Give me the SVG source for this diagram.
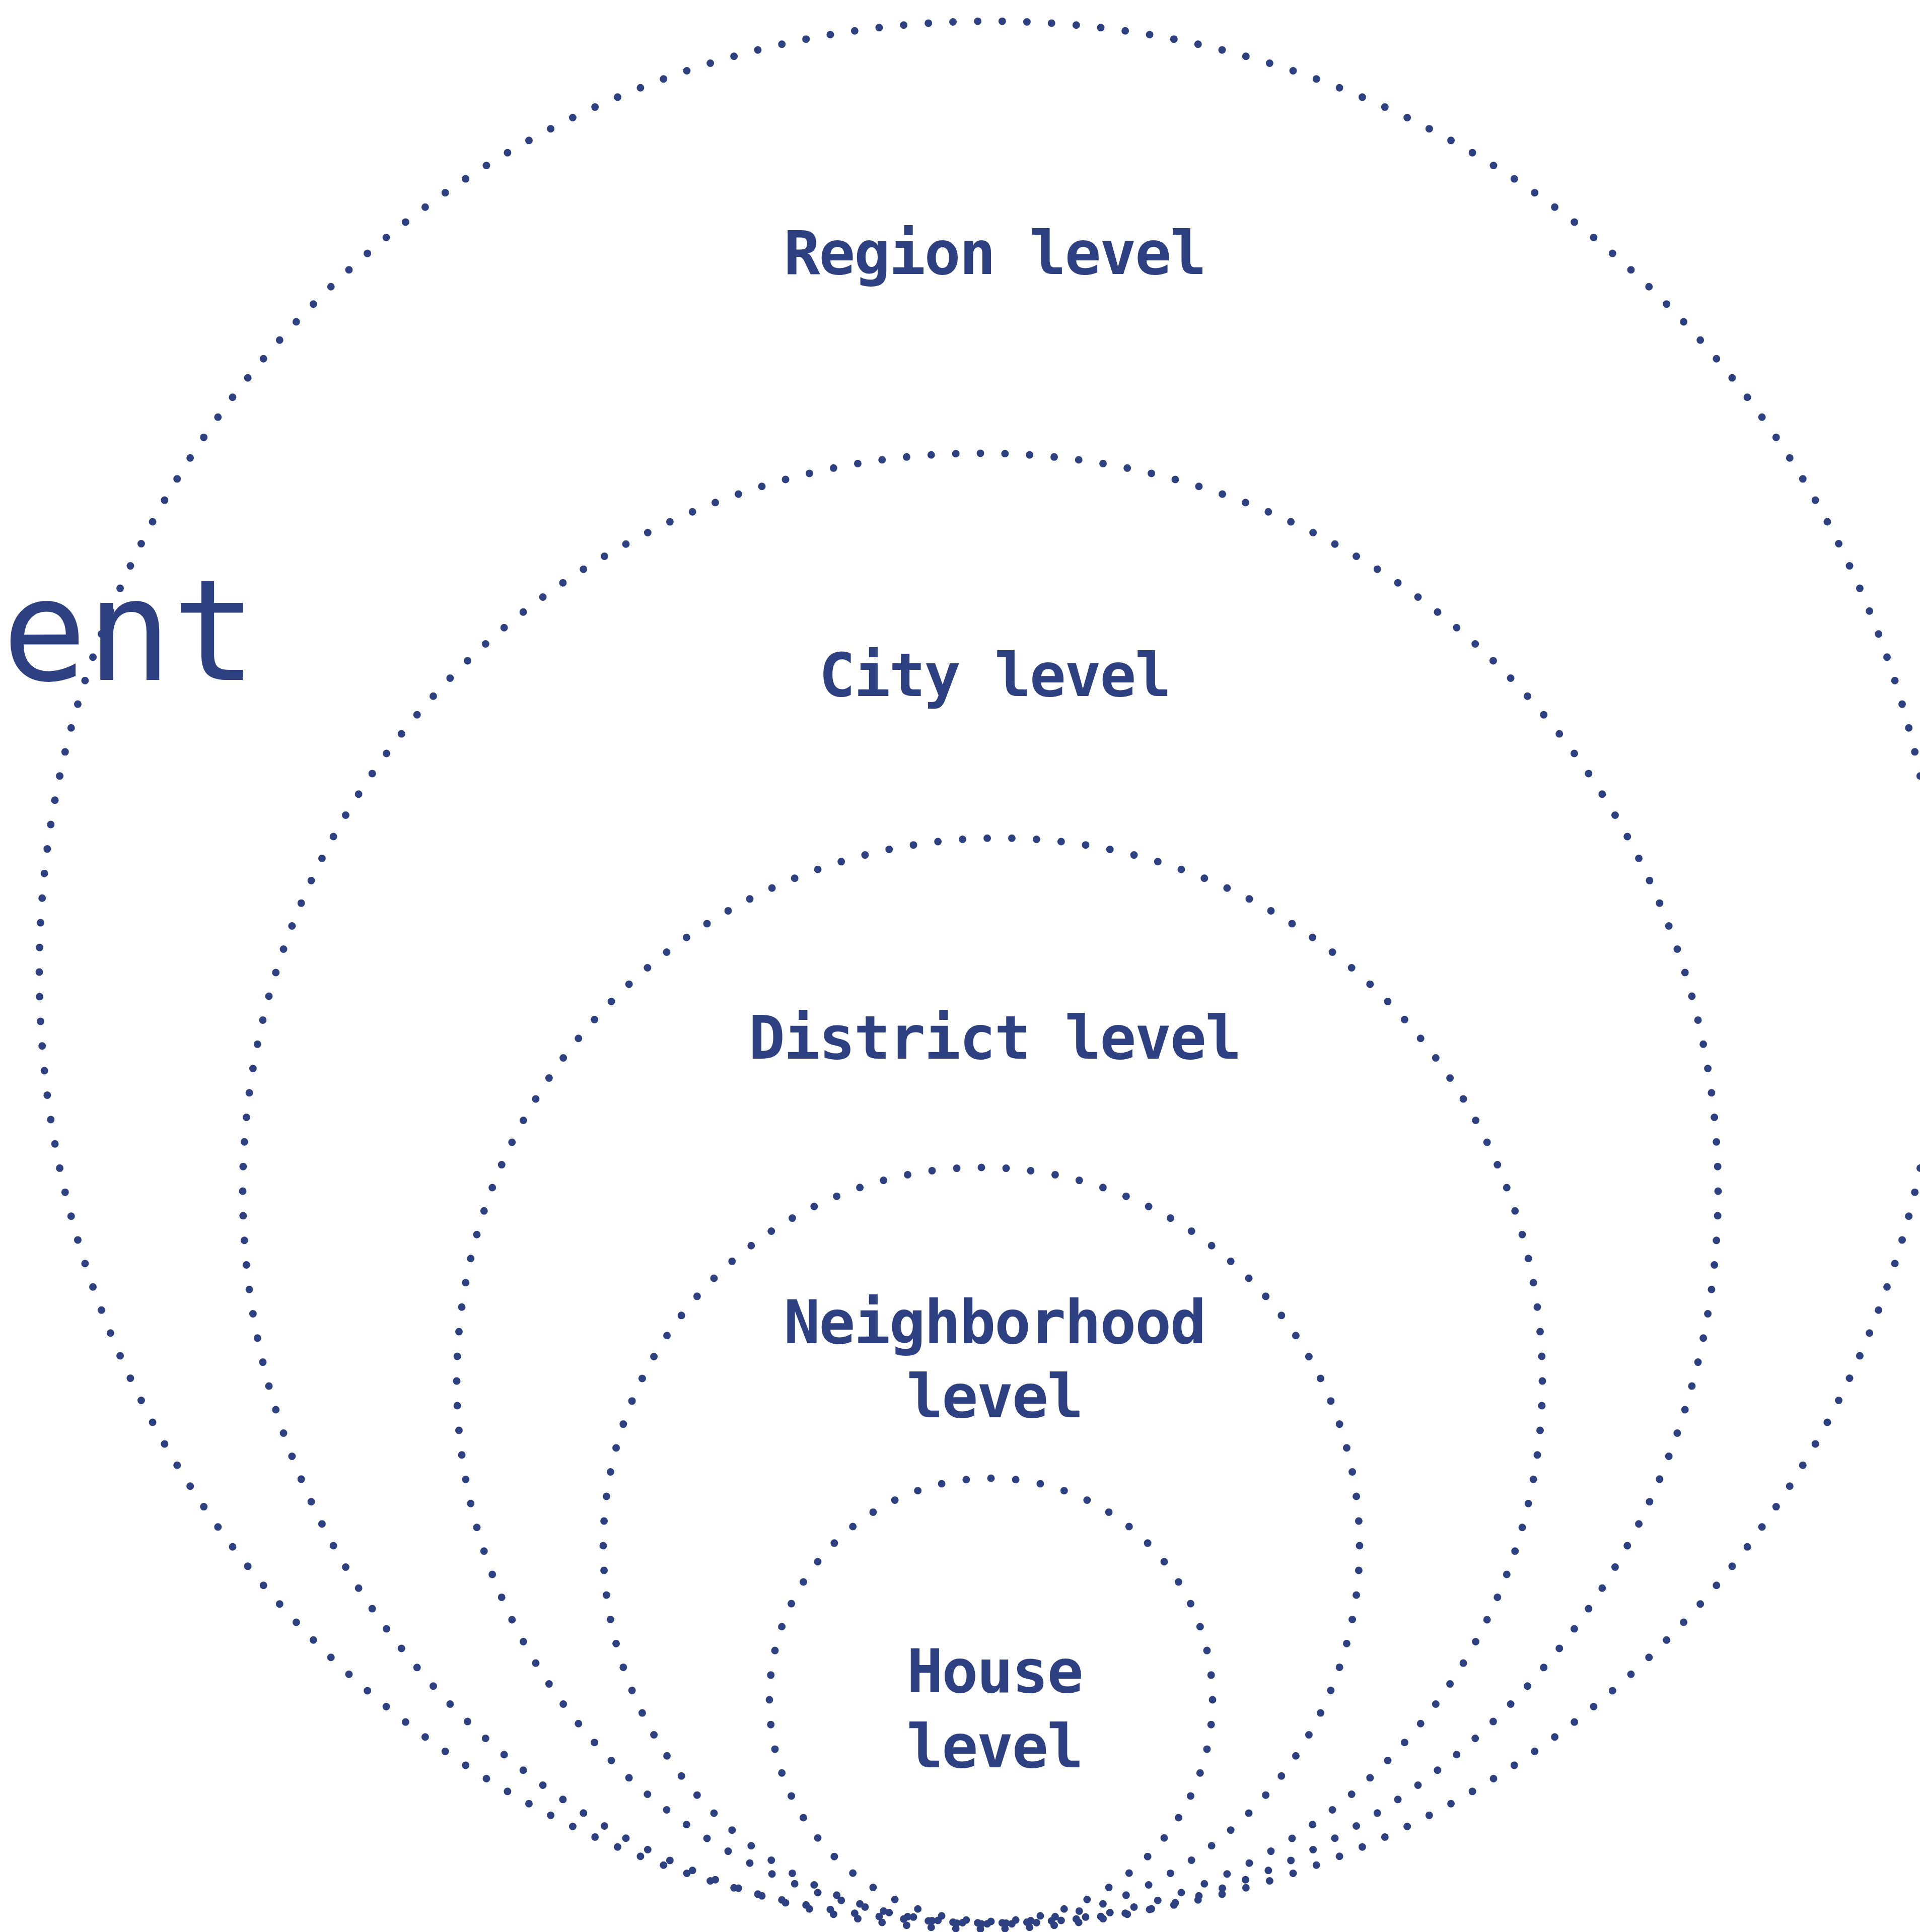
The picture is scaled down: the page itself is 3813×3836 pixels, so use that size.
<svg xmlns="http://www.w3.org/2000/svg" width="3813" height="3836" viewBox="0 0 3813 3836">
<style>
.ring{fill:none;stroke:#2d4082;stroke-width:15;stroke-linecap:round;stroke-dasharray:0 1}
.lbl{font-family:"DejaVu Sans Mono","Liberation Mono",monospace;font-weight:bold;font-size:120px;letter-spacing:-2.5px;fill:#2d4082;text-anchor:middle}
.big{font-family:"DejaVu Sans Mono","Liberation Mono",monospace;font-size:280px;fill:#2d4082}
</style>
<rect width="3813" height="3836" fill="#ffffff"/>
<text class="big" x="4" y="1350">ent</text>
<g id="region">
<circle class="ring" cx="1966" cy="1930" r="1888" pathLength="242"/>
<text class="lbl" x="1975" y="544">Region level</text>
</g>
<g id="city">
<circle class="ring" cx="1947" cy="2365" r="1465" pathLength="188"/>
<text class="lbl" x="1975" y="1382">City level</text>
</g>
<g id="district">
<circle class="ring" cx="1985" cy="2742" r="1078" pathLength="138"/>
<text class="lbl" x="1975" y="2102">District level</text>
</g>
<g id="neighborhood">
<circle class="ring" cx="1949" cy="3069" r="751" pathLength="96"/>
<text class="lbl" x="1975" y="2667">Neighborhood</text>
<text class="lbl" x="1975" y="2814">level</text>
</g>
<g id="house">
<circle class="ring" cx="1968" cy="3375" r="440" pathLength="56"/>
<text class="lbl" x="1975" y="3360">House</text>
<text class="lbl" x="1975" y="3509">level</text>
</g>
<g id="connectors"/>
</svg>
